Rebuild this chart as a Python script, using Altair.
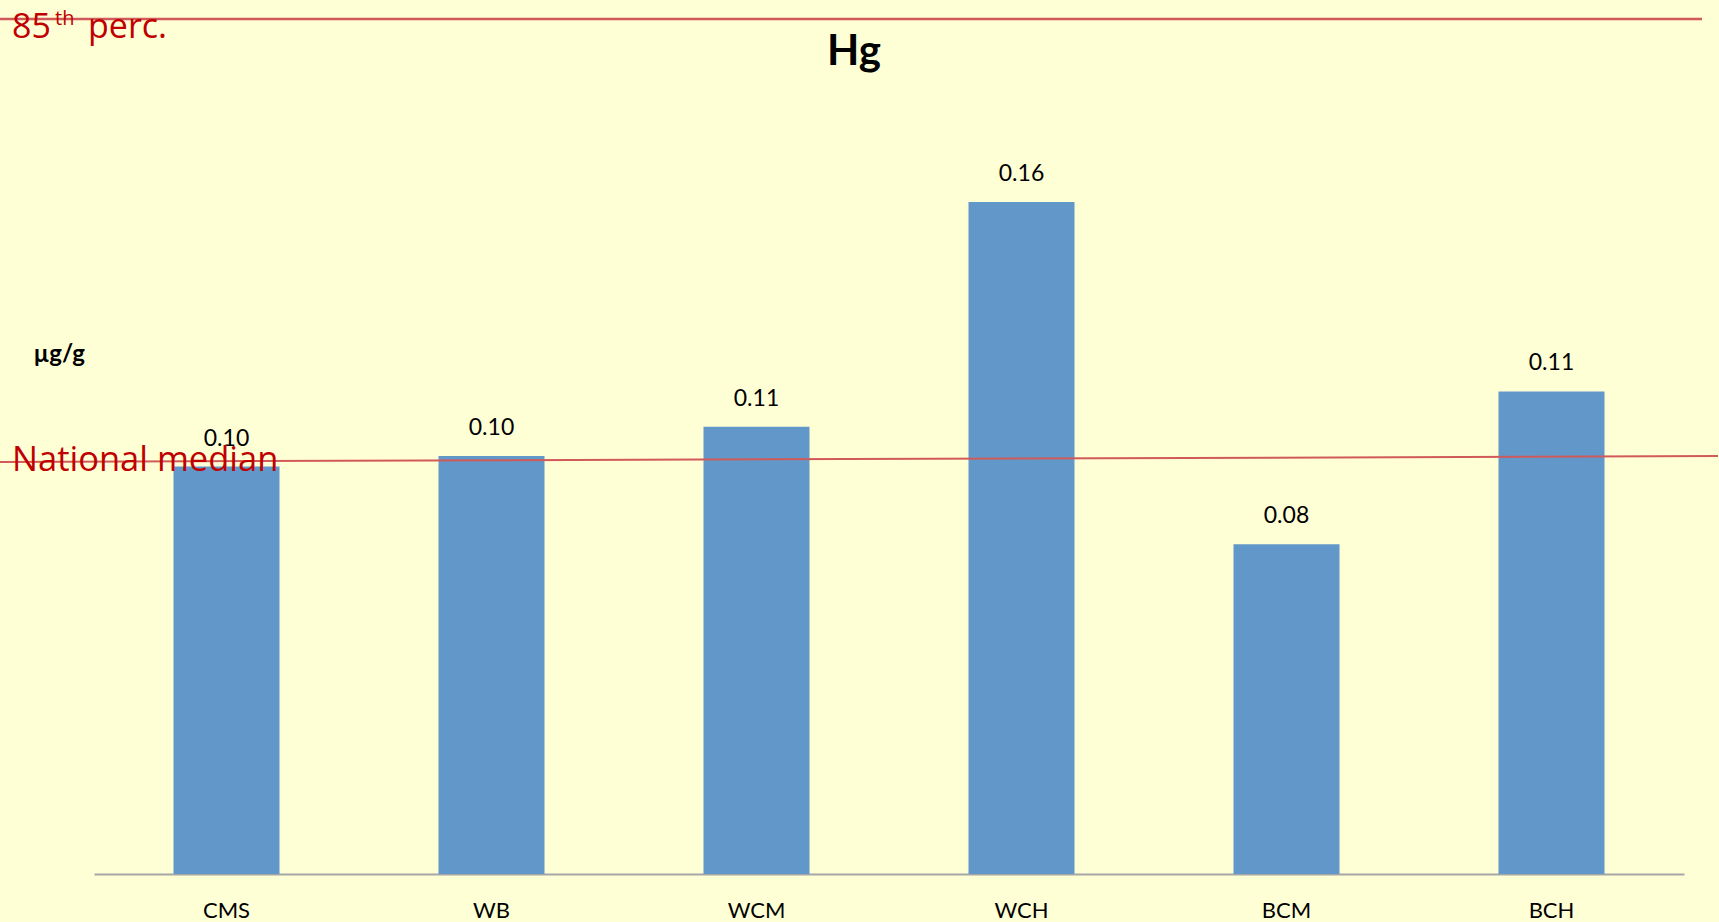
import altair as alt
import pandas as pd

# Mercury concentration per sample group (µg/g)
groups = ["CMS", "WB", "WCM", "WCH", "BCM", "BCH"]
hg_values = [0.097, 0.0995, 0.1065, 0.160, 0.0785, 0.1149]

# Reference levels (start / end of each guide line)
median_start, median_end = 0.0981, 0.0995
p85_level = 0.2036

bars_df = pd.DataFrame({"group": groups, "hg": hg_values})
median_df = pd.DataFrame({"y": [median_start], "y2": [median_end]})
p85_df = pd.DataFrame({"y": [p85_level], "y2": [p85_level]})

BG = "#FFFFD6"
BAR = "#6297C9"
LINE_RED = "#D05A5A"
TEXT_RED = "#C00000"
FONT = "Lato"
LABEL_FONT = "Open Sans"

y_scale = alt.Scale(domain=[0, 0.18], nice=False, zero=True)

x_enc = alt.X(
    "group:N",
    sort=groups,
    scale=alt.Scale(paddingInner=0.6, paddingOuter=0.3),
    axis=alt.Axis(
        title=None,
        labelAngle=0,
        labelFont=FONT,
        labelFontSize=22,
        labelColor="#000000",
        labelPadding=26,
        domainColor="#A6A6A6",
        domainWidth=2,
        ticks=False,
        grid=False,
    ),
)

y_enc = alt.Y(
    "hg:Q",
    scale=y_scale,
    axis=alt.Axis(
        title="µg/g",
        titleAngle=0,
        titleX=-61,
        titleY=236,
        titleAlign="left",
        titleBaseline="middle",
        titleFont=FONT,
        titleFontSize=24,
        titleFontWeight="bold",
        titleColor="#000000",
        labels=False,
        ticks=False,
        domain=False,
        grid=False,
    ),
)

bars = alt.Chart(bars_df).mark_bar(color=BAR).encode(x=x_enc, y=y_enc)

values = alt.Chart(bars_df).mark_text(
    font=FONT, fontSize=23, color="#000000", baseline="middle", dy=-28
).encode(
    x=alt.X("group:N", sort=groups),
    y=alt.Y("hg:Q", scale=y_scale),
    text=alt.Text("hg:Q", format=".2f"),
)

median_line = alt.Chart(median_df).mark_rule(color=LINE_RED, strokeWidth=2).encode(
    x=alt.value(-94),
    x2=alt.value(1624),
    y=alt.Y("y:Q", scale=y_scale),
    y2="y2:Q",
)

p85_line = alt.Chart(p85_df).mark_rule(color=LINE_RED, strokeWidth=2.5).encode(
    x=alt.value(-94),
    x2=alt.value(1608),
    y=alt.Y("y:Q", scale=y_scale),
    y2="y2:Q",
)

median_text = alt.Chart(median_df).mark_text(
    font=LABEL_FONT, fontSize=34.5, color=TEXT_RED, align="left",
    baseline="alphabetic", dy=9,
).encode(
    x=alt.value(-82),
    y=alt.Y("y:Q", scale=y_scale),
    text=alt.value("National median"),
)

p85_main = alt.Chart(p85_df).mark_text(
    font=LABEL_FONT, fontSize=34, color=TEXT_RED, align="left",
    baseline="alphabetic", dy=19,
).encode(
    x=alt.value(-82),
    y=alt.Y("y:Q", scale=y_scale),
    text=alt.value("85"),
)

p85_sup = alt.Chart(p85_df).mark_text(
    font=LABEL_FONT, fontSize=20, color=TEXT_RED, align="left",
    baseline="alphabetic", dy=6,
).encode(
    x=alt.value(-39),
    y=alt.Y("y:Q", scale=y_scale),
    text=alt.value("th"),
)

p85_rest = alt.Chart(p85_df).mark_text(
    font=LABEL_FONT, fontSize=34, color=TEXT_RED, align="left",
    baseline="alphabetic", dy=19,
).encode(
    x=alt.value(-6),
    y=alt.Y("y:Q", scale=y_scale),
    text=alt.value("perc."),
)

title = alt.Chart(p85_df).mark_text(
    font=FONT, fontSize=42, fontWeight="bold", color="#000000",
    align="center", baseline="alphabetic",
).encode(
    x=alt.value(760),
    y=alt.value(-53),
    text=alt.value("Hg"),
)

chart = alt.layer(
    bars, values, median_line, p85_line, median_text,
    p85_main, p85_sup, p85_rest, title,
).properties(
    width=1590,
    height=756,
    background=BG,
    padding={"left": 94, "top": 118, "right": 35, "bottom": 48},
    autosize=alt.AutoSizeParams(type="none"),
).configure_view(stroke=None, fill=BG)

chart.save("out.html", embed_options={"renderer": "svg", "actions": False})
